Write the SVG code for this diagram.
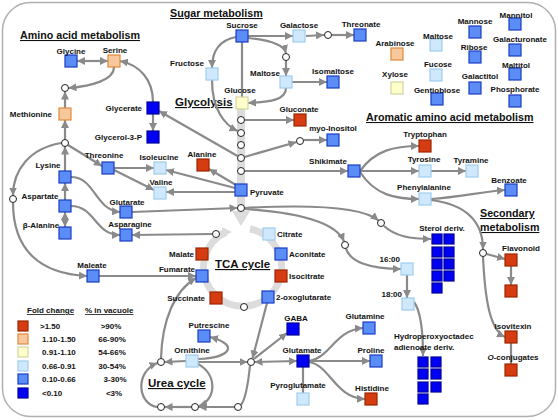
<svg xmlns="http://www.w3.org/2000/svg" width="558" height="420" viewBox="0 0 558 420">
<style>
text{font-family:"Liberation Sans",Arial,sans-serif;font-weight:bold;font-size:8px;fill:#111}
.t{font-size:10.7px;text-decoration:underline}
.tb{font-size:11.5px;text-decoration:underline}
.u{text-decoration:underline}
.m{text-anchor:middle}
.e{text-anchor:end}
.r{fill:#d63c12;stroke:#9c2600}
.o{fill:#f6c89b;stroke:#e08a3c}
.y{fill:#ffffcc;stroke:#d4d4a4}
.lb{fill:#cfe8fb;stroke:#9fcdef}
.b{fill:#5b8df7;stroke:#1c3cc4}
.db{fill:#0000f5;stroke:#00009a}
rect.n{stroke-width:1.2}
.c{fill:#fff;stroke:#222;stroke-width:1}
#edges path{fill:none;stroke:#8a8a8a;stroke-width:2.2}
.a{marker-end:url(#ah)}
.aa{marker-end:url(#ah);marker-start:url(#as)}
</style>
<defs>
<marker id="ah" viewBox="0 0 10 10" refX="10" refY="5" markerUnits="userSpaceOnUse" markerWidth="8" markerHeight="8" orient="auto"><path d="M0,0 L10,5 L0,10 z" fill="#8a8a8a"/></marker>
<marker id="as" viewBox="0 0 10 10" refX="0" refY="5" markerUnits="userSpaceOnUse" markerWidth="8" markerHeight="8" orient="auto"><path d="M10,0 L0,5 L10,10 z" fill="#8a8a8a"/></marker>
</defs>
<rect x="2.5" y="2.5" width="553" height="414" rx="28" fill="#fff" stroke="#b0b0b0" stroke-width="1.5"/>

<g id="titles">
<text class="t" x="170" y="17">Sugar metabolism</text>
<text class="t" x="20" y="39">Amino acid metabolism</text>
<text class="tb" x="175" y="106">Glycolysis</text>
<text class="t" x="366" y="121">Aromatic amino acid metabolism</text>
<text class="t" x="480" y="217">Secondary</text>
<text class="t" x="480" y="231">metabolism</text>
<text class="tb" x="215" y="268">TCA cycle</text>
<text class="tb" x="148" y="387">Urea cycle</text>
</g>

<g id="backbone">
<rect x="237" y="108" width="8" height="104" fill="#dcdcdc"/>
<polygon points="232,211 250,211 241,226" fill="#dcdcdc"/>
<path d="M250,229 A39,39 0 1 1 226,232" fill="none" stroke="#dcdcdc" stroke-width="7"/>
<polygon points="222,227 232,232 222,237" fill="#dcdcdc"/>
</g>

<g id="edges">
<path class="a" d="M248,36 L293,36"/>
<path class="a" d="M306,36 L324,35"/>
<path class="a" d="M331.5,35 L354,35"/>
<path class="a" d="M248,38 C270,40 284,45 286,53"/>
<path class="a" d="M286,60.5 L286,76"/>
<path class="a" d="M236,37 C220,40 212,50 212,68"/>
<path d="M242,42 L242,97"/>
<path class="a" d="M292,82 L327,82"/>
<path class="a" d="M286,88 C286,100 270,102 248,103"/>
<path class="a" d="M212,80 C212,110 225,125 237.5,131"/>
<path class="a" d="M244.5,120 L294,120"/>
<path class="a" d="M244.5,157 L296.5,142"/>
<path class="a" d="M303.5,140 L327,140"/>
<path class="a" d="M244.5,171 L348,171"/>
<path class="a" d="M237.5,156 L159,111"/>
<path class="a" d="M236,185 L209,169"/>
<path class="a" d="M235,188 L166,170"/>
<path class="a" d="M235,192 L166,192"/>
<path class="a" d="M132,212 L237.5,208"/>
<path class="a" d="M244.5,208 C300,205 360,205 378.5,220.5"/>
<path class="a" d="M384,226 C395,236 410,239 431,239"/>
<path class="a" d="M244.5,209 C290,212 335,220 344,241.5"/>
<path class="a" d="M346,248.5 C350,262 370,269 401,269"/>
<path class="a" d="M407,275 L407,298"/>
<path class="a" d="M414,302 C420,310 423,330 423,356"/>
<path class="a" d="M212.5,234 L132,235"/>
<path class="aa" d="M77,61 L108,61"/>
<path class="a" d="M114,67 C114,80 92,86 68.5,88"/>
<path class="a" d="M153,102 C153,80 140,65 120,61"/>
<path class="a" d="M153,114 L153,131"/>
<path class="a" d="M65,108 L65,91.5"/>
<path class="a" d="M65,139.5 L65,120"/>
<path class="a" d="M65,171 L65,146.5"/>
<path class="a" d="M65,200 L65,183"/>
<path class="aa" d="M65,212 L65,227"/>
<path class="a" d="M68,145 L102,166"/>
<path class="a" d="M61.5,143 C30,148 13,170 13,195.5"/>
<path class="a" d="M13,202.5 C13,250 40,274 87,276"/>
<path class="a" d="M71,177 C95,177 95,210 120,212"/>
<path class="a" d="M71,206 C95,206 95,235 120,235"/>
<path class="a" d="M114,168 L154,168"/>
<path class="a" d="M114,170 L154,190"/>
<path class="a" d="M99,276 L196,276"/>
<path class="a" d="M161,358.5 C162,320 175,290 196,278"/>
<path class="a" d="M267,303 L252.5,358.5"/>
<path class="a" d="M186,361 L164.5,362"/>
<path class="a" d="M198,359 C230,358 240,345 210,337"/>
<path class="a" d="M198,362 L247.5,362"/>
<path class="aa" d="M254.5,362 L297,361"/>
<path class="a" d="M254,359 L287,333"/>
<path d="M250,365.5 C248,385 245,400 241,405"/>
<path class="a" d="M234.5,407 L198.5,407"/>
<path class="a" d="M198,364 C218,375 216,400 199,406"/>
<path class="a" d="M191.5,407 L164.5,407"/>
<path class="a" d="M157.5,407 C138,405 134,372 157.5,363"/>
<path class="a" d="M309,361 C330,358 335,330 363,328"/>
<path class="a" d="M309,361 L370,361"/>
<path class="a" d="M309,362 C330,365 335,398 365,399"/>
<path d="M303,367 L303,393"/>
<path class="a" d="M360,171 C375,150 395,146 419,146"/>
<path class="a" d="M360,171 L419,171"/>
<path class="a" d="M360,172 C375,195 395,199 419,199"/>
<path class="a" d="M431,171 L466,171"/>
<path class="a" d="M431,199 C460,197 480,192 505,190"/>
<path class="a" d="M431,200 C470,205 483,225 483,249.5"/>
<path class="a" d="M486.5,254 L505,259"/>
<path class="a" d="M511,266 L511,285"/>
<path class="a" d="M483,256.5 C485,300 490,330 505,337"/>
<path d="M511,343 L511,364"/>
</g>

<g id="circles">
<circle class="c" cx="65" cy="88" r="3.5"/>
<circle class="c" cx="65" cy="143" r="3.5"/>
<circle class="c" cx="13" cy="199" r="3.5"/>
<circle class="c" cx="328" cy="35" r="3.5"/>
<circle class="c" cx="286" cy="57" r="3.5"/>
<circle class="c" cx="241" cy="120" r="3.5"/>
<circle class="c" cx="241" cy="133" r="3.5"/>
<circle class="c" cx="241" cy="145" r="3.5"/>
<circle class="c" cx="241" cy="158" r="3.5"/>
<circle class="c" cx="241" cy="171" r="3.5"/>
<circle class="c" cx="241" cy="208" r="3.5"/>
<circle class="c" cx="300" cy="141" r="3.5"/>
<circle class="c" cx="381" cy="223" r="3.5"/>
<circle class="c" cx="345" cy="245" r="3.5"/>
<circle class="c" cx="216" cy="234" r="3.5"/>
<circle class="c" cx="244" cy="307" r="3.5"/>
<circle class="c" cx="483" cy="253" r="3.5"/>
<circle class="c" cx="161" cy="362" r="3.5"/>
<circle class="c" cx="161" cy="407" r="3.5"/>
<circle class="c" cx="195" cy="407" r="3.5"/>
<circle class="c" cx="238" cy="407" r="3.5"/>
<circle class="c" cx="251" cy="362" r="3.5"/>
</g>

<g id="Glycine"><rect class="n b" x="65" y="55" width="12" height="12"/><text class="m" x="71" y="54">Glycine</text></g>
<g id="Serine"><rect class="n o" x="108" y="55" width="12" height="12"/><text class="m" x="115" y="53">Serine</text></g>
<g id="Methionine"><rect class="n o" x="59" y="108" width="12" height="12"/><text class="e" x="52" y="117">Methionine</text></g>
<g id="Glycerate"><rect class="n db" x="147" y="102" width="12" height="12"/><text class="e" x="142" y="111">Glycerate</text></g>
<g id="Glycerol-3-P"><rect class="n db" x="147" y="131" width="12" height="12"/><text class="e" x="142" y="140">Glycerol-3-P</text></g>
<g id="Threonine"><rect class="n b" x="102" y="162" width="12" height="12"/><text class="m" x="104" y="158">Threonine</text></g>
<g id="Lysine"><rect class="n b" x="59" y="171" width="12" height="12"/><text class="m" x="48" y="168">Lysine</text></g>
<g id="Aspartate"><rect class="n b" x="59" y="200" width="12" height="12"/><text class="m" x="40" y="199">Aspartate</text></g>
<g id="beta-Alanine"><rect class="n b" x="59" y="227" width="12" height="12"/><text class="m" x="41" y="228">β-Alanine</text></g>
<g id="Glutarate"><rect class="n b" x="120" y="206" width="12" height="12"/><text class="m" x="127" y="205">Glutarate</text></g>
<g id="Asparagine"><rect class="n b" x="120" y="229" width="12" height="12"/><text class="m" x="130" y="227">Asparagine</text></g>
<g id="Isoleucine"><rect class="n lb" x="154" y="162" width="12" height="12"/><text class="m" x="159" y="160">Isoleucine</text></g>
<g id="Valine"><rect class="n lb" x="154" y="187" width="12" height="12"/><text class="m" x="161" y="185">Valine</text></g>
<g id="Alanine"><rect class="n r" x="197" y="159" width="12" height="12"/><text class="m" x="202" y="157">Alanine</text></g>
<g id="Maleate"><rect class="n b" x="87" y="270" width="12" height="12"/><text class="m" x="92" y="268">Maleate</text></g>
<g id="Fumarate"><rect class="n b" x="196" y="270" width="12" height="12"/><text class="e" x="195" y="272">Fumarate</text></g>
<g id="Malate"><rect class="n r" x="196" y="248" width="12" height="12"/><text class="e" x="194" y="257">Malate</text></g>
<g id="Succinate"><rect class="n r" x="210" y="292" width="12" height="12"/><text class="e" x="205" y="301">Succinate</text></g>
<g id="Citrate"><rect class="n lb" x="263" y="228" width="12" height="12"/><text x="277" y="237">Citrate</text></g>
<g id="Aconitate"><rect class="n b" x="275" y="248" width="12" height="12"/><text x="289" y="257">Aconitate</text></g>
<g id="Isocitrate"><rect class="n r" x="275" y="270" width="12" height="12"/><text x="289" y="279">Isocitrate</text></g>
<g id="Oxoglutarate"><rect class="n b" x="262" y="291" width="12" height="12"/><text x="276" y="300">2-oxoglutarate</text></g>
<g id="Pyruvate"><rect class="n b" x="235" y="184" width="12" height="12"/><text x="250" y="195">Pyruvate</text></g>
<g id="Sucrose"><rect class="n b" x="236" y="30" width="12" height="12"/><text class="m" x="242" y="28">Sucrose</text></g>
<g id="Galactose"><rect class="n lb" x="293" y="30" width="12" height="12"/><text class="m" x="299" y="28">Galactose</text></g>
<g id="Threonate"><rect class="n b" x="354" y="29" width="12" height="12"/><text class="m" x="361" y="27">Threonate</text></g>
<g id="Fructose"><rect class="n lb" x="206" y="68" width="12" height="12"/><text class="m" x="187" y="66">Fructose</text></g>
<g id="Maltose"><rect class="n lb" x="280" y="76" width="12" height="12"/><text class="m" x="265" y="76">Maltose</text></g>
<g id="Isomaltose"><rect class="n b" x="327" y="76" width="12" height="12"/><text class="m" x="333" y="74">Isomaltose</text></g>
<g id="Glucose"><rect class="n y" x="236" y="97" width="12" height="12"/><text class="m" x="240" y="93">Glucose</text></g>
<g id="Gluconate"><rect class="n r" x="294" y="114" width="12" height="12"/><text class="m" x="299" y="112">Gluconate</text></g>
<g id="myo-Inositol"><rect class="n b" x="327" y="134" width="12" height="12"/><text class="m" x="333" y="131">myo-Inositol</text></g>
<g id="Shikimate"><rect class="n b" x="348" y="165" width="12" height="12"/><text class="m" x="328" y="164">Shikimate</text></g>
<g id="Tryptophan"><rect class="n r" x="419" y="140" width="12" height="12"/><text class="m" x="425" y="137">Tryptophan</text></g>
<g id="Tyrosine"><rect class="n lb" x="419" y="165" width="12" height="12"/><text class="m" x="424" y="162">Tyrosine</text></g>
<g id="Tyramine"><rect class="n lb" x="466" y="165" width="12" height="12"/><text class="m" x="471" y="163">Tyramine</text></g>
<g id="Phenylalanine"><rect class="n lb" x="419" y="193" width="12" height="12"/><text class="m" x="424" y="190">Phenylalanine</text></g>
<g id="Benzoate"><rect class="n b" x="505" y="184" width="12" height="12"/><text class="m" x="509" y="183">Benzoate</text></g>
<g id="Flavonoid"><rect class="n r" x="505" y="254" width="12" height="12"/><text class="m" x="521" y="251">Flavonoid</text></g>
<g id="Flavonoid-product"><rect class="n r" x="505" y="285" width="12" height="12"/></g>
<g id="Isovitexin"><rect class="n r" x="505" y="331" width="12" height="12"/><text class="m" x="513" y="329">Isovitexin</text></g>
<g id="O-conjugates"><rect class="n r" x="505" y="364" width="12" height="12"/><text class="m" x="513" y="360"><tspan font-style="italic">O</tspan>-conjugates</text></g>
<g id="C16"><rect class="n lb" x="401" y="263" width="12" height="12"/><text class="e" x="400" y="262">16:00</text></g>
<g id="C18"><rect class="n lb" x="402" y="298" width="12" height="12"/><text class="e" x="402" y="297">18:00</text></g>
<g id="Sterol">
<text class="m" x="442" y="231">Sterol deriv.</text>
<rect class="n db" x="432" y="234" width="10" height="10"/><rect class="n db" x="444" y="234" width="10" height="10"/>
<rect class="n db" x="432" y="247" width="10" height="10"/><rect class="n db" x="444" y="247" width="10" height="10"/>
<rect class="n db" x="432" y="259" width="10" height="10"/><rect class="n db" x="444" y="259" width="10" height="10"/>
<rect class="n db" x="432" y="271" width="10" height="10"/><rect class="n db" x="444" y="271" width="10" height="10"/>
<rect class="n db" x="432" y="283" width="10" height="10"/>
</g>
<g id="Hydroperoxy">
<text x="394" y="339">Hydroperoxyoctadec</text>
<text x="394" y="350">adienoate deriv.</text>
<rect class="n db" x="418" y="357" width="10" height="10"/><rect class="n db" x="431" y="357" width="10" height="10"/>
<rect class="n db" x="418" y="369" width="10" height="10"/><rect class="n db" x="431" y="369" width="10" height="10"/>
<rect class="n db" x="418" y="382" width="10" height="10"/><rect class="n db" x="431" y="382" width="10" height="10"/>
<rect class="n db" x="418" y="394" width="10" height="10"/>
</g>
<g id="Putrescine"><rect class="n b" x="198" y="330" width="12" height="12"/><text class="m" x="209" y="328">Putrescine</text></g>
<g id="Ornithine"><rect class="n lb" x="186" y="355" width="12" height="12"/><text class="m" x="192" y="353">Ornithine</text></g>
<g id="GABA"><rect class="n db" x="287" y="323" width="12" height="12"/><text class="m" x="296" y="321">GABA</text></g>
<g id="Glutamate"><rect class="n db" x="297" y="355" width="12" height="12"/><text class="m" x="302" y="353">Glutamate</text></g>
<g id="Pyroglutamate"><rect class="n lb" x="297" y="393" width="12" height="12"/><text class="m" x="298" y="388">Pyroglutamate</text></g>
<g id="Glutamine"><rect class="n b" x="363" y="322" width="12" height="12"/><text class="m" x="365" y="319">Glutamine</text></g>
<g id="Proline"><rect class="n b" x="370" y="355" width="12" height="12"/><text class="m" x="371" y="353">Proline</text></g>
<g id="Histidine"><rect class="n r" x="365" y="393" width="12" height="12"/><text class="m" x="372" y="391">Histidine</text></g>

<g id="Arabinose"><rect class="n o" x="391" y="48" width="12" height="12"/><text class="m" x="395" y="46">Arabinose</text></g>
<g id="Xylose"><rect class="n y" x="391" y="82" width="12" height="12"/><text class="m" x="395" y="77">Xylose</text></g>
<g id="Maltose2"><rect class="n lb" x="430" y="39" width="12" height="12"/><text class="m" x="438" y="39">Maltose</text></g>
<g id="Fucose"><rect class="n lb" x="430" y="69" width="12" height="12"/><text class="m" x="438" y="67">Fucose</text></g>
<g id="Gentiobiose"><rect class="n b" x="431" y="93" width="12" height="12"/><text class="m" x="437" y="93">Gentiobiose</text></g>
<g id="Mannose"><rect class="n b" x="469" y="26" width="12" height="12"/><text class="m" x="475" y="24">Mannose</text></g>
<g id="Ribose"><rect class="n b" x="469" y="51" width="12" height="12"/><text class="m" x="474" y="50">Ribose</text></g>
<g id="Galactitol"><rect class="n b" x="469" y="82" width="12" height="12"/><text class="m" x="480" y="79">Galactitol</text></g>
<g id="Mannitol"><rect class="n b" x="509" y="18" width="12" height="12"/><text class="m" x="516" y="18">Mannitol</text></g>
<g id="Galacturonate"><rect class="n b" x="509" y="44" width="12" height="12"/><text class="m" x="520" y="42">Galacturonate</text></g>
<g id="Maltitol"><rect class="n b" x="509" y="68" width="12" height="12"/><text class="m" x="516" y="68">Maltitol</text></g>
<g id="Phosphorate"><rect class="n b" x="509" y="95" width="12" height="12"/><text class="m" x="515" y="92">Phosphorate</text></g>

<g id="legend">
<text class="u" x="27" y="313">Fold change</text>
<text class="u" x="85" y="313">% in vacuole</text>
<rect class="n r" x="18" y="321" width="10" height="10"/><text x="40" y="329">&gt;1.50</text><text class="m" x="111" y="329">&gt;90%</text>
<rect class="n o" x="18" y="334" width="10" height="10"/><text x="42" y="342">1.10-1.50</text><text class="m" x="112" y="342">66-90%</text>
<rect class="n y" x="18" y="347" width="10" height="10"/><text x="42" y="355">0.91-1.10</text><text class="m" x="112" y="355">54-66%</text>
<rect class="n lb" x="18" y="361" width="10" height="10"/><text x="42" y="369">0.66-0.91</text><text class="m" x="112" y="369">30-54%</text>
<rect class="n b" x="18" y="374" width="10" height="10"/><text x="42" y="382">0.10-0.66</text><text class="m" x="115" y="382">3-30%</text>
<rect class="n db" x="18" y="388" width="10" height="10"/><text x="42" y="396">&lt;0.10</text><text class="m" x="114" y="396">&lt;3%</text>
</g>
</svg>
